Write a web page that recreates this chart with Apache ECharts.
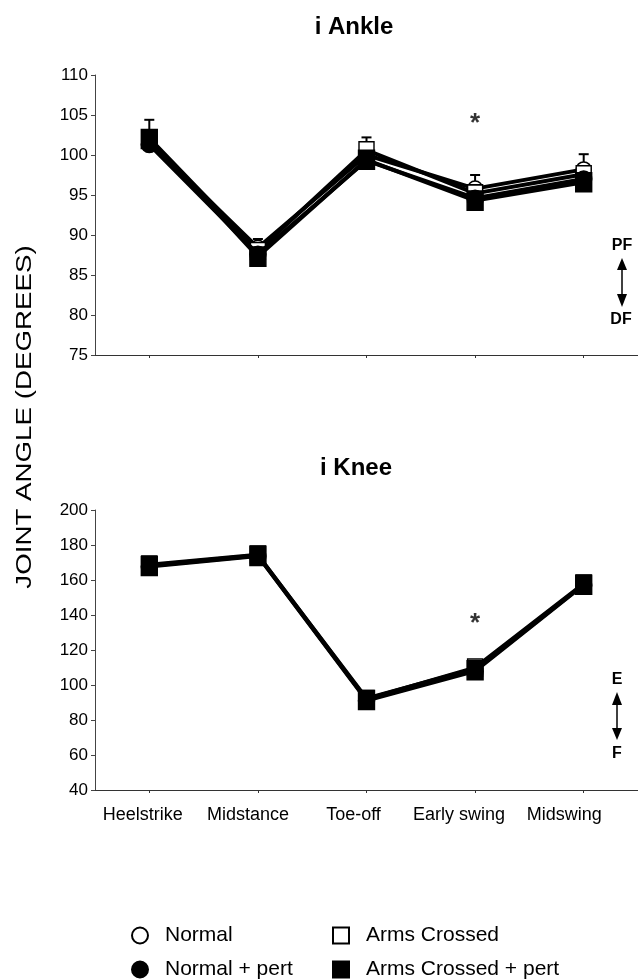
<!DOCTYPE html>
<html>
<head>
<meta charset="utf-8">
<script src="https://cdn.jsdelivr.net/npm/echarts@6/dist/echarts.min.js"></script>
<style>
html,body{margin:0;padding:0;background:#fff;}
#chart{width:638px;height:980px;}
</style>
</head>
<body>
<div id="chart"></div>
<script>
// ---- data ----
const categories = ['Heelstrike', 'Midstance', 'Toe-off', 'Early swing', 'Midswing'];
const seriesNames = ['Normal', 'Normal + pert', 'Arms Crossed', 'Arms Crossed + pert'];

const ankleNormal = [101.6, 88.4, 100.0, 95.8, 98.2];
const ankleNormalPert = [101.3, 87.6, 99.3, 94.6, 97.0];
const ankleArms = [102.1, 88.0, 100.6, 95.2, 97.6];
const ankleArmsPert = [102.0, 87.3, 99.4, 94.3, 96.6];
const ankleErrTop = [104.4, 89.5, 102.2, 97.5, 100.1];

const kneeNormal = [168.5, 174.3, 92.5, 109.5, 157.6];
const kneeNormalPert = [167.6, 173.6, 91.0, 107.8, 157.0];
const kneeArms = [168.8, 174.6, 92.0, 110.0, 158.0];
const kneeArmsPert = [168.0, 173.8, 91.4, 108.4, 157.3];

const ankleTicks = [75, 80, 85, 90, 95, 100, 105, 110];
const kneeTicks = [40, 60, 80, 100, 120, 140, 160, 180, 200];

const ankleStar = [[3, 103.9]];
const kneeStar = [[3, 135]];

// ---- styling helpers ----
const BLACK = '#000';
const FONT = 'Liberation Sans, Arial, sans-serif';
const styles = {
  'Normal': {symbol: 'circle', size: 15, fill: '#fff'},
  'Normal + pert': {symbol: 'circle', size: 16, fill: BLACK},
  'Arms Crossed': {symbol: 'rect', size: [15, 17], fill: '#fff'},
  'Arms Crossed + pert': {symbol: 'rect', size: [16, 19], fill: BLACK}
};

function lineSeries(name, data, axisIdx, lw, z) {
  const s = styles[name];
  return {
    name: name, type: 'line', xAxisIndex: axisIdx, yAxisIndex: axisIdx,
    data: data, symbol: s.symbol, symbolSize: s.size, showSymbol: true,
    z: z,
    lineStyle: {color: BLACK, width: lw},
    itemStyle: {color: s.fill, borderColor: BLACK, borderWidth: 1.5},
    emphasis: {disabled: true},
    animation: false
  };
}

function valueAxis(gridIdx, min, max, interval) {
  return {
    type: 'value', gridIndex: gridIdx, min: min, max: max, interval: interval,
    axisLine: {show: true, lineStyle: {color: '#444', width: 1}},
    axisTick: {show: true, length: 4, lineStyle: {color: '#444'}},
    axisLabel: {color: BLACK, fontSize: 17, fontFamily: FONT, margin: 7},
    splitLine: {show: false}
  };
}

const legendText = {fontSize: 21, lineHeight: 21, fontFamily: FONT, color: BLACK, padding: [0, 0, 0, 12]};

const option = {
  backgroundColor: '#fff',
  animation: false,
  title: [
    {text: 'i Ankle', left: 349, top: 10, textAlign: 'center',
     textStyle: {fontSize: 24, fontWeight: 'bold', fontFamily: FONT, color: BLACK}},
    {text: 'i Knee', left: 351, top: 451, textAlign: 'center',
     textStyle: {fontSize: 24, fontWeight: 'bold', fontFamily: FONT, color: BLACK}}
  ],
  legend: [
    {data: [{name: 'Normal', icon: 'circle'}, {name: 'Normal + pert', icon: 'circle'}],
     orient: 'vertical', left: 131, top: 925, height: 120, padding: 0,
     itemWidth: 16, itemHeight: 16, itemGap: 13,
     selectedMode: false, textStyle: legendText},
    {data: [{name: 'Arms Crossed', icon: 'rect'}, {name: 'Arms Crossed + pert', icon: 'rect'}],
     orient: 'vertical', left: 332, top: 925, height: 120, padding: 0,
     itemWidth: 16, itemHeight: 16, itemGap: 13,
     selectedMode: false, textStyle: legendText}
  ],
  grid: [
    {left: 95, top: 75, width: 546, height: 280},
    {left: 95, top: 510, width: 546, height: 280},
    {left: 90, top: 510, width: 527, height: 280}
  ],
  xAxis: [
    {type: 'category', gridIndex: 0, data: categories, boundaryGap: true,
     axisLine: {lineStyle: {color: '#333', width: 1.2}},
     axisTick: {show: true, alignWithLabel: true, length: 3, lineStyle: {color: '#333'}},
     axisLabel: {show: false}},
    {type: 'category', gridIndex: 1, data: categories, boundaryGap: true,
     axisLine: {lineStyle: {color: '#333', width: 1.2}},
     axisTick: {show: true, alignWithLabel: true, length: 3, lineStyle: {color: '#333'}},
     axisLabel: {show: false}},
    {type: 'category', gridIndex: 2, data: categories, boundaryGap: true,
     axisLine: {show: false}, axisTick: {show: false},
     axisLabel: {show: true, color: BLACK, fontSize: 18, fontFamily: FONT, margin: 16, interval: 0}}
  ],
  yAxis: [
    valueAxis(0, 75, 110, 5),
    valueAxis(1, 40, 200, 20),
    {type: 'value', gridIndex: 2, min: 40, max: 200, show: false}
  ],
  series: [
    // error bars (ankle)
    {
      type: 'custom', xAxisIndex: 0, yAxisIndex: 0, z: 1, animation: false,
      data: ankleErrTop.map((v, i) => [i, ankleNormal[i], v]),
      renderItem: function (params, api) {
        const i = api.value(0);
        const lo = api.coord([i, api.value(1)]);
        const hi = api.coord([i, api.value(2)]);
        return {type: 'group', children: [
          {type: 'line', shape: {x1: lo[0], y1: lo[1], x2: hi[0], y2: hi[1]},
           style: {stroke: BLACK, lineWidth: 2}},
          {type: 'line', shape: {x1: hi[0] - 5, y1: hi[1], x2: hi[0] + 5, y2: hi[1]},
           style: {stroke: BLACK, lineWidth: 2}}
        ]};
      }
    },
    lineSeries('Normal', ankleNormal, 0, 4, 2),
    lineSeries('Arms Crossed', ankleArms, 0, 4, 3),
    lineSeries('Normal + pert', ankleNormalPert, 0, 4, 4),
    lineSeries('Arms Crossed + pert', ankleArmsPert, 0, 4, 5),
    lineSeries('Normal', kneeNormal, 1, 3.5, 2),
    lineSeries('Arms Crossed', kneeArms, 1, 3.5, 3),
    lineSeries('Normal + pert', kneeNormalPert, 1, 3.5, 4),
    lineSeries('Arms Crossed + pert', kneeArmsPert, 1, 3.5, 5),
    // significance markers
    {type: 'scatter', xAxisIndex: 0, yAxisIndex: 0, data: ankleStar, symbolSize: 0,
     label: {show: true, position: 'inside', formatter: '*', fontSize: 26, fontWeight: 'bold', fontFamily: FONT, color: BLACK}},
    {type: 'scatter', xAxisIndex: 1, yAxisIndex: 1, data: kneeStar, symbolSize: 0,
     label: {show: true, position: 'inside', formatter: '*', fontSize: 26, fontWeight: 'bold', fontFamily: FONT, color: BLACK}}
  ],
  graphic: [
    {type: 'text', x: 25, y: 417, rotation: Math.PI / 2, scaleX: 1.26,
     style: {text: 'JOINT ANGLE (DEGREES)', font: '22px ' + FONT, fill: BLACK,
             textAlign: 'center', textVerticalAlign: 'middle'}},
    // PF / DF
    {type: 'text', x: 622, y: 246, style: {text: 'PF', font: 'bold 16px ' + FONT, fill: BLACK, textAlign: 'center', textVerticalAlign: 'middle'}},
    {type: 'line', shape: {x1: 622, y1: 266, x2: 622, y2: 298}, style: {stroke: BLACK, lineWidth: 1.5}},
    {type: 'polygon', shape: {points: [[622, 258], [617, 270], [627, 270]]}, style: {fill: BLACK}},
    {type: 'polygon', shape: {points: [[622, 307], [617, 294], [627, 294]]}, style: {fill: BLACK}},
    {type: 'text', x: 621, y: 320, style: {text: 'DF', font: 'bold 16px ' + FONT, fill: BLACK, textAlign: 'center', textVerticalAlign: 'middle'}},
    // E / F
    {type: 'text', x: 617, y: 680, style: {text: 'E', font: 'bold 16px ' + FONT, fill: BLACK, textAlign: 'center', textVerticalAlign: 'middle'}},
    {type: 'line', shape: {x1: 617, y1: 700, x2: 617, y2: 732}, style: {stroke: BLACK, lineWidth: 1.5}},
    {type: 'polygon', shape: {points: [[617, 692], [612, 705], [622, 705]]}, style: {fill: BLACK}},
    {type: 'polygon', shape: {points: [[617, 740], [612, 728], [622, 728]]}, style: {fill: BLACK}},
    {type: 'text', x: 617, y: 754, style: {text: 'F', font: 'bold 16px ' + FONT, fill: BLACK, textAlign: 'center', textVerticalAlign: 'middle'}}
  ]
};

const chart = echarts.init(document.getElementById('chart'), null, {renderer: 'canvas'});
chart.setOption(option);
</script>
</body>
</html>
